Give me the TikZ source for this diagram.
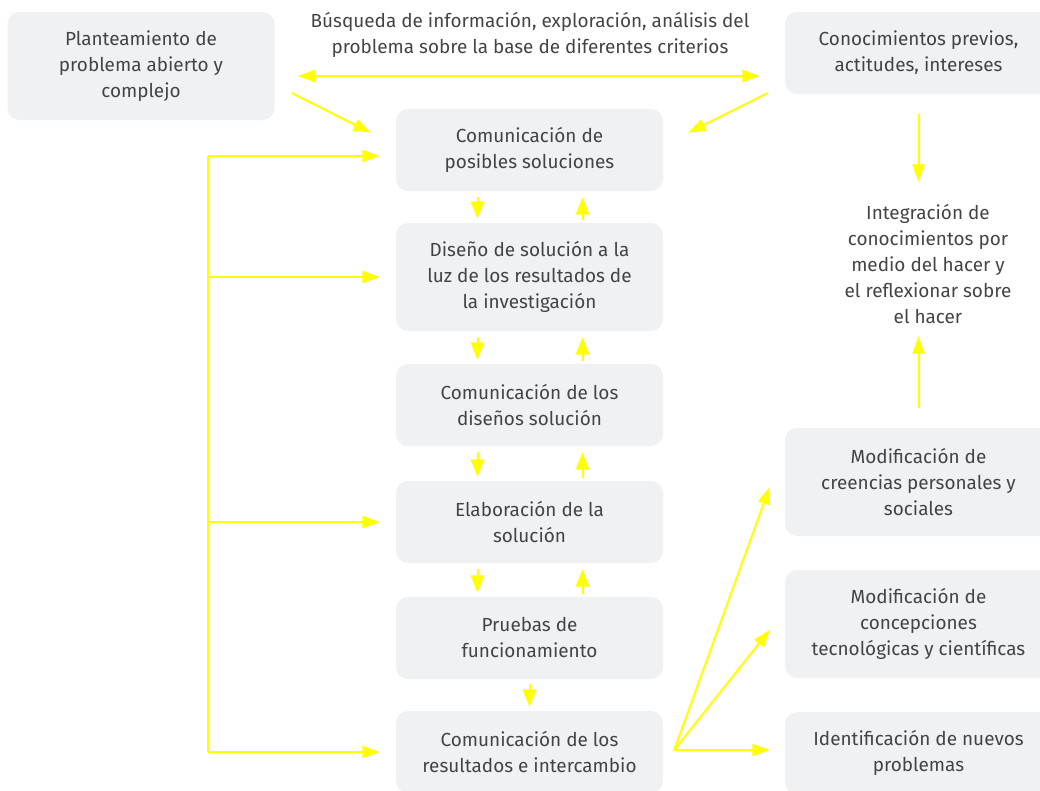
\documentclass[tikz,border=0pt]{standalone}
\usepackage{fontspec}
\setmainfont{Fira Sans}
\usetikzlibrary{arrows.meta,calc}
\definecolor{boxc}{HTML}{F0F1F3}
\definecolor{txt}{HTML}{444444}
\definecolor{yel}{HTML}{FFFF00}
\tikzset{
  box/.style={fill=boxc, draw=none, rounded corners=9pt, text=txt, align=center,
    font=\fontsize{14.2}{19.5}\selectfont, minimum width=200.25pt, inner sep=0pt},
  lbl/.style={text=txt, align=center, font=\fontsize{14.2}{19.5}\selectfont, inner sep=0pt},
  yline/.style={draw=yel, line width=1.5pt},
  arr/.style={yline, -{Triangle[length=13pt,width=9pt]}},
  sarr/.style={yline, -{Triangle[length=13pt,width=10pt]}},
  darr/.style={yline, {Triangle[length=13pt,width=9pt]}-{Triangle[length=13pt,width=9pt]}},
}
\begin{document}
\begin{tikzpicture}[x=0.75pt,y=-0.75pt]
\useasboundingbox (0,0) rectangle (1040,790);
% nodes
\node[box, minimum height=81pt] (p) at (141,66) {Planteamiento de\\problema abierto y\\complejo};
\node[box, minimum height=61.5pt] (k) at (918.5,53) {Conocimientos previos,\\actitudes, intereses};
\node[lbl] (t) at (530,35) {Búsqueda de información, exploración, análisis del\\problema sobre la base de diferentes criterios};
\node[box, minimum height=61.5pt] (c1) at (529.5,150) {Comunicación de\\posibles soluciones};
\node[box, minimum height=81pt] (c2) at (529.5,277) {Diseño de solución a la\\luz de los resultados de\\la investigación};
\node[box, minimum height=61.5pt] (c3) at (529.5,405) {Comunicación de los\\diseños solución};
\node[box, minimum height=61.5pt] (c4) at (529.5,522) {Elaboración de la\\solución};
\node[box, minimum height=61.5pt] (c5) at (529.5,638) {Pruebas de\\funcionamiento};
\node[box, minimum height=61.5pt] (c6) at (529.5,752) {Comunicación de los\\resultados e intercambio};
\node[lbl, minimum height=115.5pt] (i) at (928,264) {Integración de\\conocimientos por\\medio del hacer y\\el reflexionar sobre\\el hacer};
\node[box, minimum height=81pt] (m1) at (918.5,482) {Modificación de\\creencias personales y\\sociales};
\node[box, minimum height=81pt] (m2) at (918.5,624) {Modificación de\\concepciones\\tecnológicas y científicas};
\node[box, minimum height=61.5pt] (m3) at (918.5,753) {Identificación de nuevos\\problemas};
% top connectors
\draw[darr] ($(p.east)+(23,10)$) -- ($(k.west)+(-25,23)$);
\draw[arr] ($(p.east)+(17,27)$) -- ($(c1.north west)+(-25,24)$);
\draw[arr] ($(k.west)+(-17,40)$) -- ($(c1.north east)+(25,24)$);
% right column
\draw[arr] ($(k.south)+(0,20)$) -- ($(k.south |- i.north)+(0,-5)$);
\draw[arr] ($(m1.north)+(0,-20)$) -- ($(m1.north |- i.south)+(0,-5)$);
% central chain
\foreach \a/\b in {c1/c2,c2/c3,c3/c4,c4/c5}{
  \draw[sarr] ($(\a.south)+(-52,6)$) -- ($(\b.north)+(-52,-4)$);
  \draw[sarr] ($(\b.north)+(53,-3)$) -- ($(\a.south)+(53,6)$);
}
\draw[sarr] ($(c5.south)+(0,5)$) -- ($(c6.north)+(0,-4)$);
% left bracket
\coordinate (bt) at (208,156);
\coordinate (bb) at (208,752);
\draw[yline, line cap=square] (bt) -- (bb);
\draw[arr] (bt) -- ($(c1.west)+(-16,6)$);
\draw[arr] (bt |- c2.west) -- ($(c2.west)+(-16,0)$);
\draw[arr] (bt |- c4.west) -- ($(c4.west)+(-16,0)$);
\draw[arr] (bb) -- ($(c6.west)+(-16,0)$);
% results fan
\coordinate (f) at ($(c6.east)+(11,-2)$);
\draw[arr] (f) -- ($(m1.west)+(-15,5)$);
\draw[arr] (f) -- ($(m2.west)+(-15,6)$);
\draw[arr] (f) -- ($(m3.west)+(-15,-3)$);
\end{tikzpicture}
\end{document}
